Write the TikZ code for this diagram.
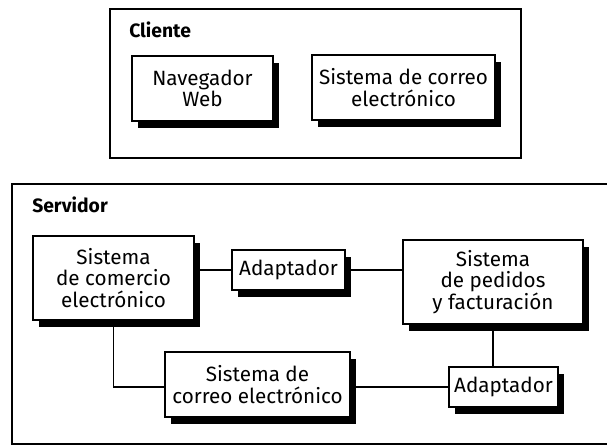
\documentclass[tikz,border=0pt]{standalone}
\usepackage{fontspec}
\setmainfont{Fira Sans}
\usetikzlibrary{positioning,shadows}

\begin{document}
\begin{tikzpicture}[
  x=0.75pt, y=-0.75pt,
  group/.style={draw, line width=1.4pt, inner sep=0pt},
  title/.style={font=\bfseries\fontsize{14.5}{16}\selectfont, anchor=base west, inner sep=0pt},
  box/.style={draw, line width=1.4pt, fill=white, align=center, inner sep=1pt,
    font=\fontsize{15.5}{16}\selectfont,
    drop shadow={shadow xshift=4.5pt, shadow yshift=-5pt, fill=black, opacity=1}},
  link/.style={line width=1pt}
]
\useasboundingbox (0,0) rectangle (607,447);
% client side
\node[group, minimum width=308.25pt, minimum height=111.75pt] (cliente) at (315.5,83.5) {};
\node[title] (clienteT) at (129,37) {Cliente};
\node[box, minimum width=105.75pt, minimum height=48.75pt] (nav) at (202.5,88.5) {Navegador\\Web};
\node[box, minimum width=137.25pt, minimum height=48.75pt] (correoC) at (403.5,87.5) {Sistema de correo\\electrónico};
% server side
\node[group, minimum width=450pt, minimum height=195pt] (servidor) at (312,314) {};
\node[title] (servidorT) at (32,212) {Servidor};
\node[box, minimum width=120.75pt, minimum height=63pt] (comercio) at (113.5,278) {Sistema\\de comercio\\electrónico};
\node[box, minimum width=84.75pt, minimum height=30pt] (adapt1) at (288.5,270) {Adaptador};
\node[box, minimum width=135pt, minimum height=63pt] (pedidos) at (493,282) {Sistema\\de pedidos\\y facturación};
\node[box, minimum width=138.75pt, minimum height=48.75pt] (correoS) at (257.5,384.5) {Sistema de\\correo electrónico};
\node[box, minimum width=81.75pt, minimum height=30pt] (adapt2) at (503.5,387) {Adaptador};
% links
\draw[link] (comercio.east |- adapt1.west) -- (adapt1.west);
\draw[link] (adapt1.east) -- (adapt1.east -| pedidos.west);
\draw[link] (pedidos.south) -- (pedidos.south |- adapt2.north);
\draw[link] (comercio.south) |- (correoS.west |- adapt2.west);
\draw[link] (correoS.east |- adapt2.west) -- (adapt2.west);
\end{tikzpicture}
\end{document}
